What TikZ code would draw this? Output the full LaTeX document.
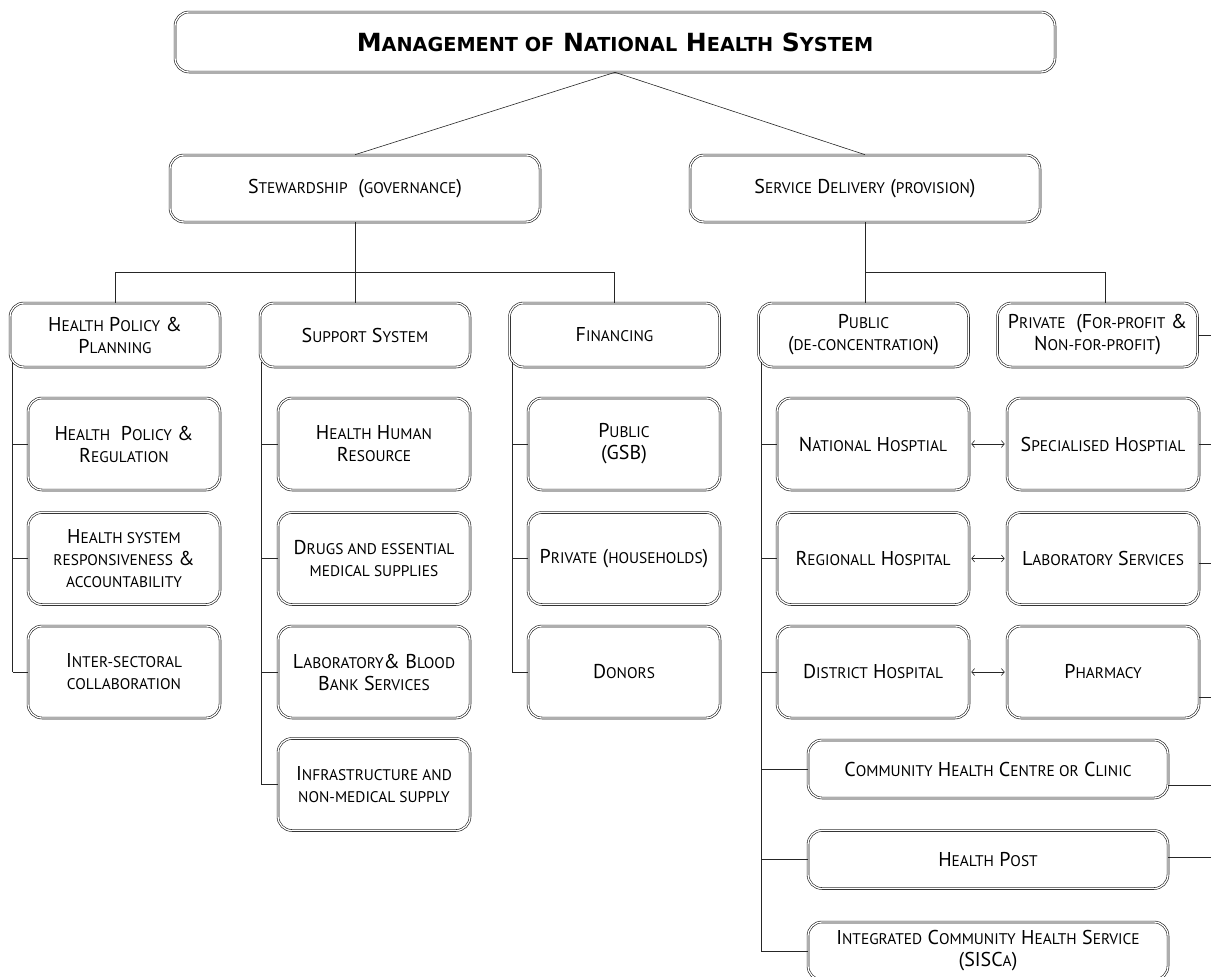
\documentclass[tikz,border=0pt]{standalone}
\usepackage{fontspec}
\setmainfont{PT Sans}
\newfontfamily\titlefont{DejaVu Sans}
\usetikzlibrary{arrows.meta,calc}
\makeatletter
\newcommand\sm[1]{{\@tempdima=\f@size pt\@tempdima=0.77\@tempdima\fontsize{\strip@pt\@tempdima}{\f@baselineskip}\selectfont\MakeUppercase{#1}}}
\makeatother
\tikzset{
  box/.style={draw=black!90, line width=0.6pt, double=white, double distance=1.3pt,
    rounded corners=14pt, align=center, inner sep=2pt, text=black,
    font=\fontsize{20}{22}\selectfont},
  lvtwo/.style={box, minimum width=210pt, minimum height=64pt},
  child/.style={box, minimum width=192pt, minimum height=92pt},
  wide/.style={box, minimum width=360pt, minimum height=58pt},
  link/.style={draw=black!85, line width=0.8pt},
  biarrow/.style={draw=black!85, line width=0.6pt, {Straight Barb[length=3pt,width=7pt]}-{Straight Barb[length=3pt,width=7pt]}}
}
\begin{document}
\begin{tikzpicture}[x=1pt,y=-1pt]
\useasboundingbox (0,0) rectangle (1211,977);
\coordinate (edge) at (1212,0);

% top levels
\node[box, minimum width=880pt, minimum height=60pt, font=\titlefont\bfseries\fontsize{25}{28}\selectfont] (title) at (615,42)
  {M\sm{anagement of} N\sm{ational} H\sm{ealth} S\sm{ystem}};
\node[box, minimum width=370pt, minimum height=67pt] (stew) at (355,188.5) {S\sm{tewardship}\ \ (\sm{governance})};
\node[box, minimum width=350pt, minimum height=67pt] (sd) at (865,188.5) {S\sm{ervice} D\sm{elivery} (\sm{provision})};

% level 2
\node[lvtwo] (hpp) at (115,335) {H\sm{ealth} P\sm{olicy} \&\\P\sm{lanning}};
\node[lvtwo] (sup) at (365,335) {S\sm{upport} S\sm{ystem}};
\node[lvtwo] (fin) at (614.5,335) {F\sm{inancing}};
\node[lvtwo] (pub) at (863.5,335) {P\sm{ublic}\\(\sm{de-concentration})};
\node[lvtwo, minimum width=200pt] (pri) at (1097.5,335) {P\sm{rivate}\ \ (F\sm{or-profit} \&\\N\sm{on-for-profit})};

% children: health policy & planning
\node[child] (hpr) at (124,444) {H\sm{ealth}\ \ P\sm{olicy} \&\\R\sm{egulation}};
\node[child] (hsr) at (124,558.5) {H\sm{ealth system}\\\sm{responsiveness} \&\\\sm{accountability}};
\node[child] (isc) at (124,672) {I\sm{nter-sectoral}\\\sm{collaboration}};

% children: support system
\node[child] (hhr) at (374,444) {H\sm{ealth} H\sm{uman}\\R\sm{esource}};
\node[child] (drg) at (374,558.5) {D\sm{rugs and essential}\\\sm{medical supplies}};
\node[child] (lbb) at (374,672) {L\sm{aboratory}\& B\sm{lood}\\B\sm{ank} S\sm{ervices}};
\node[child] (inf) at (374,784.5) {I\sm{nfrastructure and}\\\sm{non-medical supply}};

% children: financing
\node[child] (gsb) at (624,444) {P\sm{ublic}\\(GSB)};
\node[child] (hh) at (624,558.5) {P\sm{rivate} (\sm{households})};
\node[child] (don) at (624,672) {D\sm{onors}};

% children: public
\node[child] (nat) at (873,444) {N\sm{ational} H\sm{osptial}};
\node[child] (reg) at (873,558.5) {R\sm{egionall} H\sm{ospital}};
\node[child] (dis) at (873,672) {D\sm{istrict} H\sm{ospital}};
\node[wide] (chc) at (988,769) {C\sm{ommunity} H\sm{ealth} C\sm{entre or} C\sm{linic}};
\node[wide] (hpo) at (988,859.5) {H\sm{ealth} P\sm{ost}};
\node[wide] (sis) at (988,951) {I\sm{ntegrated} C\sm{ommunity} H\sm{ealth} S\sm{ervice}\\(SISC\sm{a})};

% children: private
\node[child] (spe) at (1103,444) {S\sm{pecialised} H\sm{osptial}};
\node[child] (lab) at (1103,558.5) {L\sm{aboratory} S\sm{ervices}};
\node[child] (pha) at (1103,672) {P\sm{harmacy}};

% connectors from title
\draw[link, line width=0.6pt] (title.south) -- (stew.north);
\draw[link, line width=0.6pt] (title.south) -- (sd.north);

% stewardship bus
\draw[link] (stew.south) -- ++(0,50) coordinate (j1);
\draw[link] (hpp.north) |- (j1) -| (fin.north);
\draw[link] (j1) -- (j1 |- sup.north);

% service delivery bus
\draw[link] (sd.south) -- ++(0,50) coordinate (j2);
\draw[link] (j2) -- (j2 |- pub.north);
\draw[link] (j2) -| ($(pri.north)+(7.5,0)$);

% vertical spines
\draw[link] ($(hpp.south west)+(3,-5)$) coordinate (v1) -- (v1 |- isc.west);
\foreach \c in {hpr,hsr,isc} \draw[link] (v1 |- \c.west) -- (\c.west);
\draw[link] ($(sup.south west)+(2,-5)$) coordinate (v2) -- (v2 |- inf.west);
\foreach \c in {hhr,drg,lbb,inf} \draw[link] (v2 |- \c.west) -- (\c.west);
\draw[link] ($(fin.south west)+(3,-5)$) coordinate (v3) -- (v3 |- don.west);
\foreach \c in {gsb,hh,don} \draw[link] (v3 |- \c.west) -- (\c.west);
\draw[link] ($(pub.south west)+(3,-5)$) coordinate (v4) -- (v4 |- sis.west);
\foreach \c in {nat,reg,dis,chc,hpo,sis} \draw[link] (v4 |- \c.west) -- (\c.west);

% public <-> private
\draw[biarrow] ([xshift=2pt]nat.east) -- ([xshift=-2pt]spe.west);
\draw[biarrow] ([xshift=2pt]reg.east) -- ([xshift=-2pt]lab.west);
\draw[biarrow] ([xshift=2pt]dis.east) -- ([xshift=-2pt]pha.west);

% stubs to the right edge
\draw[link] (pri.east) -- (pri.east -| edge);
\draw[link] (spe.east) -- (spe.east -| edge);
\draw[link] ([yshift=-4.5pt]lab.east) coordinate (s2) -- (s2 -| edge);
\draw[link] ([yshift=-25pt]pha.east) coordinate (s3) -- (s3 -| edge);
\draw[link] ([yshift=-16pt]chc.east) coordinate (s4) -- (s4 -| edge);
\draw[link] ([yshift=2pt]hpo.east) coordinate (s5) -- (s5 -| edge);
\end{tikzpicture}
\end{document}
